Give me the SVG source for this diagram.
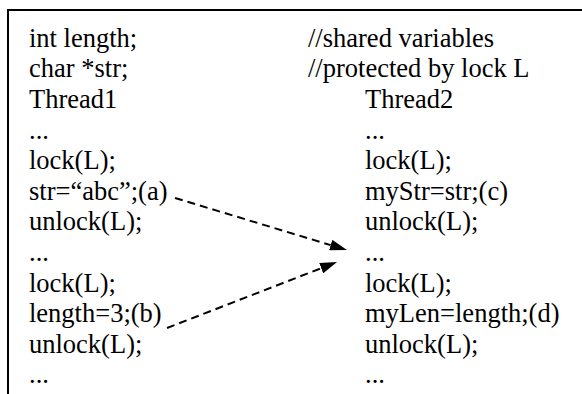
<svg xmlns="http://www.w3.org/2000/svg" width="582" height="394" viewBox="0 0 582 394">
<style>
  text { font-family: "Liberation Serif", "Times New Roman", serif; font-size: 26.5px; fill: #000; }
  .frame { fill: none; stroke: #000; stroke-width: 2; }
  .conn { fill: none; stroke: #000; stroke-width: 2; stroke-dasharray: 8 5; }
</style>
<defs>
  <marker id="ah" viewBox="0 0 17 11" refX="0" refY="5.5" markerWidth="17" markerHeight="11" markerUnits="userSpaceOnUse" orient="auto">
    <path d="M0,0 L17,5.5 L0,11 Z" fill="#000"/>
  </marker>
</defs>
<rect x="0" y="0" width="582" height="394" fill="#fff"/>
<path class="frame" d="M8,394 V10 H582"/>
<g id="shared">
  <text x="29" y="46.7">int length;</text>
  <text x="29" y="77.3">char *str;</text>
  <text x="308" y="46.7">//shared variables</text>
  <text x="308" y="77.3">//protected by lock L</text>
</g>
<g id="thread1">
  <text x="29" y="107.9">Thread1</text>
  <text x="29" y="138.5">...</text>
  <text x="29" y="169.1">lock(L);</text>
  <text x="29" y="199.7">str=“abc”;(a)</text>
  <text x="29" y="230.3">unlock(L);</text>
  <text x="29" y="260.9">...</text>
  <text x="29" y="291.5">lock(L);</text>
  <text x="29" y="322.1">length=3;(b)</text>
  <text x="29" y="352.7">unlock(L);</text>
  <text x="29" y="383.3">...</text>
</g>
<g id="thread2">
  <text x="365" y="107.9">Thread2</text>
  <text x="365" y="138.5">...</text>
  <text x="365" y="169.1">lock(L);</text>
  <text x="365" y="199.7">myStr=str;(c)</text>
  <text x="365" y="230.3">unlock(L);</text>
  <text x="365" y="260.9">...</text>
  <text x="365" y="291.5">lock(L);</text>
  <text x="365" y="322.1">myLen=length;(d)</text>
  <text x="365" y="352.7">unlock(L);</text>
  <text x="365" y="383.3">...</text>
</g>
<g id="connectors">
  <path class="conn" d="M175,198 L330.7,245.1" marker-end="url(#ah)"/>
  <path class="conn" d="M167,328 L321.2,268.2" marker-end="url(#ah)"/>
</g>
</svg>
